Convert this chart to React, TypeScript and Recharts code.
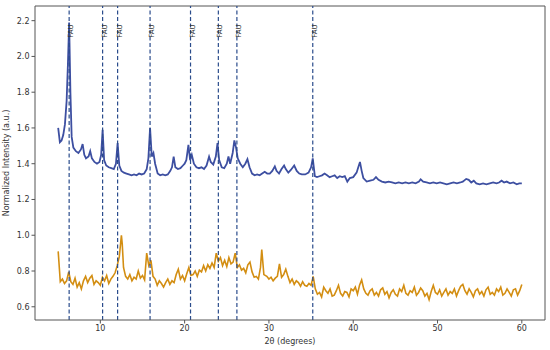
import { LineChart, Line, XAxis, YAxis, ReferenceLine, Label } from 'recharts';

// FAU reflection positions (2θ)
const fauPositions = [6.3, 10.27, 12.05, 15.9, 20.7, 24.0, 26.2, 35.2];

const xTicks = [10, 20, 30, 40, 50, 60];
const yTicks = [0.6, 0.8, 1.0, 1.2, 1.4, 1.6, 1.8, 2.0, 2.2];

// upper trace [2θ, intensity]
const upperTrace: [number, number][] = [
  [5.0, 1.6], [5.2, 1.52], [5.4, 1.53], [5.6, 1.56], [5.8, 1.62], [6.0, 1.75], [6.15, 1.95], [6.3, 2.19],
  [6.45, 1.8], [6.6, 1.55], [6.8, 1.49], [7.1, 1.47], [7.4, 1.46], [7.7, 1.48], [7.9, 1.51], [8.1, 1.45],
  [8.3, 1.43], [8.6, 1.44], [8.8, 1.47], [9.0, 1.43], [9.3, 1.41], [9.6, 1.4], [9.9, 1.41], [10.1, 1.45],
  [10.27, 1.59], [10.45, 1.42], [10.7, 1.39], [11.0, 1.38], [11.3, 1.375], [11.6, 1.37], [11.85, 1.4], [12.05, 1.515],
  [12.25, 1.39], [12.5, 1.36], [12.8, 1.35], [13.1, 1.345], [13.4, 1.34], [13.7, 1.335], [14.0, 1.34], [14.3, 1.335],
  [14.6, 1.345], [14.9, 1.34], [15.2, 1.345], [15.5, 1.37], [15.7, 1.43], [15.9, 1.6], [16.1, 1.44], [16.3, 1.46],
  [16.5, 1.4], [16.8, 1.345], [17.1, 1.335], [17.4, 1.34], [17.7, 1.335], [18.0, 1.34], [18.3, 1.36], [18.5, 1.38],
  [18.7, 1.44], [18.9, 1.38], [19.2, 1.37], [19.5, 1.375], [19.8, 1.39], [20.0, 1.4], [20.2, 1.42], [20.45, 1.505],
  [20.65, 1.42], [20.85, 1.45], [21.1, 1.4], [21.4, 1.38], [21.7, 1.375], [22.0, 1.38], [22.3, 1.37], [22.6, 1.39],
  [22.9, 1.44], [23.1, 1.41], [23.4, 1.395], [23.7, 1.44], [23.9, 1.515], [24.1, 1.42], [24.4, 1.38], [24.7, 1.375],
  [25.0, 1.4], [25.2, 1.44], [25.4, 1.4], [25.7, 1.46], [25.9, 1.53], [26.1, 1.49], [26.3, 1.43], [26.6, 1.4],
  [26.9, 1.38], [27.2, 1.4], [27.45, 1.425], [27.7, 1.38], [28.0, 1.345], [28.3, 1.335], [28.6, 1.34], [28.9, 1.335],
  [29.2, 1.345], [29.5, 1.355], [29.8, 1.345], [30.1, 1.345], [30.4, 1.36], [30.7, 1.385], [30.9, 1.36], [31.2, 1.345],
  [31.5, 1.37], [31.8, 1.39], [32.0, 1.37], [32.3, 1.35], [32.6, 1.365], [33.0, 1.39], [33.3, 1.36], [33.6, 1.345],
  [33.9, 1.34], [34.3, 1.34], [34.7, 1.35], [35.0, 1.38], [35.2, 1.43], [35.45, 1.33], [35.7, 1.325], [36.0, 1.33],
  [36.3, 1.335], [36.6, 1.345], [36.9, 1.335], [37.2, 1.325], [37.5, 1.33], [37.8, 1.335], [38.1, 1.32], [38.4, 1.33],
  [38.7, 1.325], [39.0, 1.33], [39.3, 1.3], [39.6, 1.32], [40.0, 1.325], [40.4, 1.35], [40.6, 1.38], [40.8, 1.41],
  [41.0, 1.36], [41.2, 1.32], [41.6, 1.3], [42.0, 1.305], [42.4, 1.31], [42.7, 1.325], [43.0, 1.31], [43.4, 1.3],
  [43.8, 1.295], [44.2, 1.3], [44.6, 1.295], [45.0, 1.29], [45.4, 1.295], [45.8, 1.29], [46.2, 1.295], [46.6, 1.29],
  [47.0, 1.295], [47.4, 1.29], [47.8, 1.3], [48.0, 1.313], [48.3, 1.3], [48.7, 1.295], [49.1, 1.29], [49.5, 1.295],
  [49.9, 1.29], [50.3, 1.295], [50.7, 1.29], [51.1, 1.285], [51.5, 1.29], [51.9, 1.295], [52.3, 1.29], [52.7, 1.295],
  [53.0, 1.3], [53.4, 1.315], [53.7, 1.31], [54.0, 1.295], [54.3, 1.305], [54.6, 1.29], [55.0, 1.285], [55.4, 1.29],
  [55.8, 1.285], [56.2, 1.29], [56.6, 1.295], [57.0, 1.29], [57.3, 1.295], [57.6, 1.305], [57.9, 1.295], [58.2, 1.3],
  [58.6, 1.29], [59.0, 1.295], [59.4, 1.285], [59.7, 1.29], [60.0, 1.29],
];

// lower trace [2θ, intensity]
const lowerTrace: [number, number][] = [
  [5.0, 0.91], [5.25, 0.74], [5.5, 0.755], [5.75, 0.73], [6.0, 0.745], [6.25, 0.795], [6.5, 0.74], [6.75, 0.725],
  [7.0, 0.76], [7.25, 0.71], [7.5, 0.735], [7.75, 0.7], [8.0, 0.745], [8.25, 0.77], [8.5, 0.735], [8.75, 0.76],
  [9.0, 0.775], [9.25, 0.725], [9.5, 0.745], [9.75, 0.735], [10.0, 0.72], [10.25, 0.765], [10.5, 0.745], [10.75, 0.775],
  [11.0, 0.73], [11.25, 0.755], [11.5, 0.77], [11.75, 0.79], [12.0, 0.83], [12.25, 0.88], [12.5, 1.0], [12.6, 0.95],
  [12.75, 0.82], [13.0, 0.77], [13.25, 0.755], [13.5, 0.78], [13.75, 0.745], [14.0, 0.765], [14.25, 0.755], [14.5, 0.8],
  [14.75, 0.76], [15.0, 0.775], [15.25, 0.75], [15.5, 0.9], [15.75, 0.83], [16.0, 0.86], [16.25, 0.77], [16.5, 0.755],
  [16.75, 0.72], [17.0, 0.745], [17.25, 0.73], [17.5, 0.71], [17.75, 0.735], [18.0, 0.755], [18.25, 0.725], [18.5, 0.745],
  [18.75, 0.735], [19.0, 0.78], [19.25, 0.81], [19.5, 0.755], [19.75, 0.775], [20.0, 0.745], [20.25, 0.785], [20.5, 0.82],
  [20.75, 0.775], [21.0, 0.78], [21.25, 0.8], [21.5, 0.77], [21.75, 0.805], [22.0, 0.795], [22.25, 0.83], [22.5, 0.8],
  [22.75, 0.835], [23.0, 0.815], [23.25, 0.845], [23.5, 0.82], [23.75, 0.9], [24.0, 0.855], [24.25, 0.875], [24.5, 0.83],
  [24.75, 0.86], [25.0, 0.825], [25.25, 0.875], [25.5, 0.84], [25.75, 0.85], [26.0, 0.9], [26.25, 0.82], [26.5, 0.835],
  [26.75, 0.805], [27.0, 0.815], [27.25, 0.79], [27.5, 0.835], [27.75, 0.85], [28.0, 0.795], [28.25, 0.765], [28.5, 0.77],
  [28.75, 0.755], [29.0, 0.82], [29.15, 0.92], [29.4, 0.78], [29.75, 0.77], [30.0, 0.755], [30.25, 0.765], [30.5, 0.745],
  [30.75, 0.76], [31.0, 0.77], [31.25, 0.84], [31.5, 0.765], [31.75, 0.78], [32.0, 0.81], [32.25, 0.77], [32.5, 0.735],
  [32.75, 0.755], [33.0, 0.725], [33.25, 0.745], [33.5, 0.735], [33.75, 0.715], [34.0, 0.74], [34.25, 0.72], [34.5, 0.715],
  [34.75, 0.73], [35.0, 0.72], [35.25, 0.77], [35.5, 0.7], [35.75, 0.67], [36.0, 0.68], [36.25, 0.655], [36.5, 0.71],
  [36.75, 0.69], [37.0, 0.675], [37.25, 0.7], [37.5, 0.66], [37.75, 0.665], [38.0, 0.69], [38.25, 0.72], [38.5, 0.675],
  [38.75, 0.66], [39.0, 0.685], [39.25, 0.68], [39.5, 0.655], [39.75, 0.7], [40.0, 0.69], [40.25, 0.71], [40.5, 0.67],
  [40.75, 0.72], [41.0, 0.75], [41.25, 0.7], [41.5, 0.675], [41.75, 0.665], [42.0, 0.69], [42.25, 0.7], [42.5, 0.665],
  [42.75, 0.68], [43.0, 0.66], [43.25, 0.695], [43.5, 0.705], [43.75, 0.67], [44.0, 0.685], [44.25, 0.65], [44.5, 0.68],
  [44.75, 0.695], [45.0, 0.67], [45.25, 0.66], [45.5, 0.7], [45.75, 0.685], [46.0, 0.72], [46.25, 0.675], [46.5, 0.665],
  [46.75, 0.69], [47.0, 0.68], [47.25, 0.71], [47.5, 0.665], [47.75, 0.68], [48.0, 0.705], [48.25, 0.69], [48.5, 0.66],
  [48.75, 0.675], [49.0, 0.64], [49.25, 0.685], [49.5, 0.72], [49.75, 0.68], [50.0, 0.67], [50.25, 0.695], [50.5, 0.66],
  [50.75, 0.68], [51.0, 0.7], [51.25, 0.665], [51.5, 0.685], [51.75, 0.675], [52.0, 0.7], [52.25, 0.66], [52.5, 0.69],
  [52.75, 0.715], [53.0, 0.725], [53.25, 0.69], [53.5, 0.67], [53.75, 0.7], [54.0, 0.68], [54.25, 0.655], [54.5, 0.69],
  [54.75, 0.7], [55.0, 0.67], [55.25, 0.685], [55.5, 0.66], [55.75, 0.695], [56.0, 0.71], [56.25, 0.67], [56.5, 0.68],
  [56.75, 0.665], [57.0, 0.7], [57.25, 0.685], [57.5, 0.71], [57.75, 0.665], [58.0, 0.675], [58.25, 0.7], [58.5, 0.68],
  [58.75, 0.66], [59.0, 0.695], [59.25, 0.7], [59.5, 0.665], [59.75, 0.69], [60.0, 0.725],
];

const upperData = upperTrace.map(([x, y]) => ({ x, y }));
const lowerData = lowerTrace.map(([x, y]) => ({ x, y }));

const X_MIN = 2.25;
const X_MAX = 62.75;
const Y_MIN = 0.526;
const Y_MAX = 2.282;

const font = 'DejaVu Sans, sans-serif';
const frame = '#555';

const FauLabel = (props: any) => {
  const { viewBox } = props;
  const x = viewBox.x + 4;
  const y = 31;
  return (
    <text x={x} y={y} transform={`rotate(-90 ${x} ${y})`} textAnchor="middle" fontSize={7}
      fontFamily={font} fill="#333">FAU</text>
  );
};

export default function App() {
  return (
    <div style={{ position: 'absolute', left: 0, top: 0, width: 550, height: 350, background: '#fff' }}>
      <LineChart width={550} height={350} margin={{ top: 6, right: 5, left: 0, bottom: 0 }}>
        <XAxis type="number" dataKey="x" domain={[X_MIN, X_MAX]} ticks={xTicks} allowDataOverflow
          height={30} stroke={frame} tickSize={3.5}
          tick={{ fontSize: 8, fontFamily: font, fill: '#333' }}>
          <Label content={() => (
            <text x={290} y={344} textAnchor="middle" fontSize={8} fontFamily={font} fill="#333">2θ (degrees)</text>
          )} />
        </XAxis>
        <YAxis type="number" domain={[Y_MIN, Y_MAX]} ticks={yTicks} allowDataOverflow
          width={35} stroke={frame} tickSize={3.5} tickFormatter={(v: number) => v.toFixed(1)}
          tick={{ fontSize: 8, fontFamily: font, fill: '#333' }}>
          <Label content={() => (
            <text x={9} y={163} transform="rotate(-90 9 163)" textAnchor="middle" fontSize={8}
              fontFamily={font} fill="#333">Normalized Intensity (a.u.)</text>
          )} />
        </YAxis>
        <ReferenceLine y={Y_MAX} stroke={frame} />
        <ReferenceLine x={X_MAX} stroke={frame} />
        <Line data={lowerData} dataKey="y" type="linear" stroke="#d38e12" strokeWidth={1.6}
          dot={false} isAnimationActive={false} />
        <Line data={upperData} dataKey="y" type="linear" stroke="#3d4fa1" strokeWidth={1.8}
          dot={false} isAnimationActive={false} />
        {fauPositions.map((p) => (
          <ReferenceLine key={p} x={p} stroke="#2b4c8c" strokeWidth={1.2} strokeDasharray="4 2.5"
            label={<FauLabel />} />
        ))}
      </LineChart>
    </div>
  );
}
